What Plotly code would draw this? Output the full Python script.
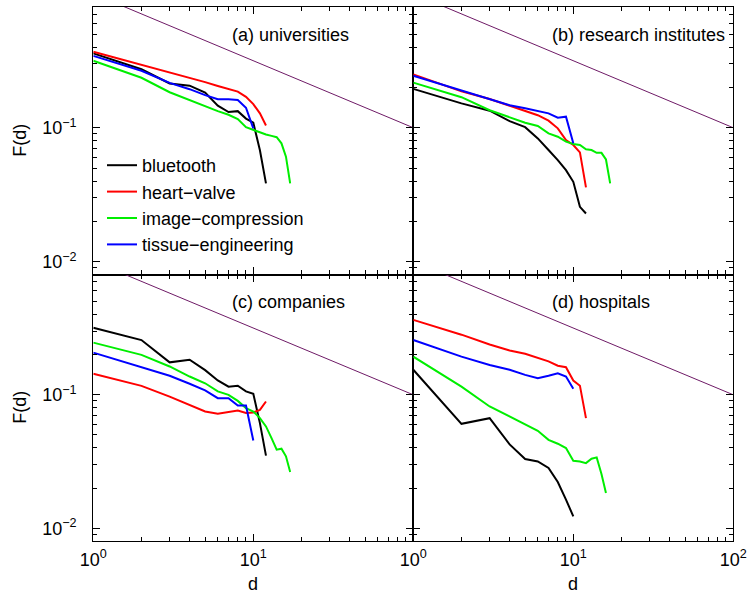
import plotly.graph_objects as go

# distance d (integer steps) and cumulative fraction F(d) per technology field
d_vals = list(range(1, 18))

series_names = ["bluetooth", "heart\u2212valve", "image\u2212compression", "tissue\u2212engineering"]
series_colors = ["#000000", "#ff0000", "#00ee00", "#0000ff"]

# (a) universities
a_bluetooth = [0.359, 0.273, 0.214, 0.206, 0.183, 0.146, 0.131, 0.133, 0.117, 0.109, 0.068, 0.0385]
a_heart = [0.369, 0.296, 0.258, 0.236, 0.219, 0.205, 0.195, 0.186, 0.170, 0.150, 0.128, 0.104]
a_image = [0.316, 0.236, 0.184, 0.161, 0.144, 0.133, 0.125, 0.116, 0.101, 0.096, 0.092, 0.089,
           0.087, 0.085, 0.0765, 0.0608, 0.0385]
a_tissue = [0.344, 0.266, 0.216, 0.194, 0.175, 0.163, 0.163, 0.161, 0.141, 0.099]

# (b) research institutes
b_bluetooth = [0.195, 0.152, 0.134, 0.112, 0.101, 0.0833, 0.0682, 0.0574, 0.0483, 0.0395, 0.0257, 0.0229]
b_heart = [0.250, 0.187, 0.164, 0.146, 0.135, 0.124, 0.113, 0.099, 0.081, 0.0743, 0.0655, 0.0359]
b_image = [0.217, 0.169, 0.135, 0.119, 0.109, 0.103, 0.0908, 0.0857, 0.0787, 0.0756, 0.0743, 0.069,
           0.0682, 0.065, 0.065, 0.058, 0.0385]
b_tissue = [0.244, 0.190, 0.164, 0.147, 0.140, 0.133, 0.128, 0.119, 0.121, 0.0765]

# (c) companies
c_bluetooth = [0.318, 0.257, 0.175, 0.183, 0.153, 0.128, 0.115, 0.117, 0.106, 0.1017, 0.0614, 0.035]
c_heart = [0.1436, 0.1167, 0.097, 0.0842, 0.075, 0.0722, 0.0741, 0.0763, 0.073, 0.0738, 0.077, 0.0891]
c_image = [0.246, 0.199, 0.163, 0.137, 0.122, 0.106, 0.100, 0.090, 0.0795, 0.075, 0.0669, 0.058,
           0.0474, 0.0388, 0.0395, 0.0346, 0.0264]
c_tissue = [0.207, 0.160, 0.139, 0.121, 0.108, 0.0944, 0.0944, 0.083, 0.083, 0.0455]

# (d) hospitals
d_bluetooth = [0.154, 0.0606, 0.0668, 0.0425, 0.033, 0.0317, 0.0283, 0.0222, 0.0164, 0.0123]
d_heart = [0.364, 0.282, 0.238, 0.215, 0.203, 0.188, 0.178, 0.165, 0.161, 0.128, 0.117, 0.0669]
d_image = [0.193, 0.115, 0.0818, 0.0689, 0.0597, 0.0538, 0.046, 0.043, 0.0399, 0.0321, 0.0317, 0.0308,
           0.0332, 0.034, 0.0255, 0.0184]
d_tissue = [0.257, 0.193, 0.167, 0.154, 0.141, 0.133, 0.139, 0.145, 0.137, 0.111]

panel_titles = ["(a) universities", "(b) research institutes", "(c) companies", "(d) hospitals"]
panel_series = [
    [a_bluetooth, a_heart, a_image, a_tissue],
    [b_bluetooth, b_heart, b_image, b_tissue],
    [c_bluetooth, c_heart, c_image, c_tissue],
    [d_bluetooth, d_heart, d_image, d_tissue],
]

# power-law guide F ~ d^(-1/2)
guide_exponent = -0.5
guide_x = [1, 100]
guide_y = [x ** guide_exponent for x in guide_x]

x_major = [1, 10, 100]
x_major_text = ["10<sup>0</sup>", "10<sup>1</sup>", "10<sup>2</sup>"]
y_major = [0.01, 0.1]
y_major_text = ["10<sup>\u22122</sup>", "10<sup>\u22121</sup>"]
x_minor = [m * 10 ** e for e in range(0, 2) for m in range(2, 10)]
y_minor = [m * 10.0 ** e for e in (-3, -2, -1) for m in range(2, 10)]

W, H = 747, 594
FONT = "Liberation Sans, Arial, Helvetica, sans-serif"

# panel frames in pixels: left, right, top, bottom
col_px = [(93.3, 413.3), (413.3, 733.3)]
row_px = [(7.0, 274.5), (274.5, 541.0)]

fig = go.Figure()

axis_common = dict(
    showline=True, linecolor="black", linewidth=1.3, mirror="allticks",
    ticks="inside", ticklen=7, tickwidth=1, tickcolor="black",
    showgrid=False, zeroline=False, automargin=False,
    tickfont=dict(family=FONT, size=18, color="black"),
)

layout = dict(
    width=W, height=H, margin=dict(l=0, r=0, t=0, b=0, autoexpand=False),
    paper_bgcolor="white", plot_bgcolor="white",
    font=dict(family=FONT, size=18, color="black"),
    showlegend=True,
    legend=dict(x=102 / W, y=1 - 147 / H, xanchor="left", yanchor="top",
                bgcolor="rgba(0,0,0,0)", borderwidth=0,
                font=dict(family=FONT, size=18, color="black"),
                tracegroupgap=0, itemwidth=30),
    annotations=[],
)

for p in range(4):
    r, c = divmod(p, 2)
    idx = "" if p == 0 else str(p + 1)
    xl, xr = col_px[c]
    yt, yb = row_px[r]
    xdom = [xl / W, xr / W]
    ydom = [1 - yb / H, 1 - yt / H]

    xa = dict(axis_common, type="log", range=[0, 2], domain=xdom, anchor="y" + idx,
              tickvals=x_major if c == 1 else x_major[:2],
              ticktext=x_major_text if c == 1 else x_major_text[:2],
              showticklabels=(r == 1), ticklabelstandoff=2,
              minor=dict(ticks="inside", ticklen=4, tickwidth=1, tickcolor="black",
                         tickvals=x_minor, showgrid=False))
    ya = dict(axis_common, type="log", range=[-2.095, -0.099], domain=ydom, anchor="x" + idx,
              tickvals=y_major, ticktext=y_major_text,
              showticklabels=(c == 0), ticklabelstandoff=12,
              minor=dict(ticks="inside", ticklen=4, tickwidth=1, tickcolor="black",
                         tickvals=y_minor, showgrid=False))
    layout["xaxis" + idx] = xa
    layout["yaxis" + idx] = ya

    fig.add_trace(go.Scatter(x=guide_x, y=guide_y, mode="lines",
                             line=dict(color="#6e1a66", width=1),
                             xaxis="x" + idx, yaxis="y" + idx,
                             showlegend=False, hoverinfo="skip"))
    for s, vals in enumerate(panel_series[p]):
        fig.add_trace(go.Scatter(x=d_vals[:len(vals)], y=vals, mode="lines",
                                 name=series_names[s],
                                 line=dict(color=series_colors[s], width=2),
                                 xaxis="x" + idx, yaxis="y" + idx,
                                 showlegend=(p == 0)))

    layout["annotations"].append(dict(
        text=panel_titles[p], xref="x%s domain" % idx, yref="y%s domain" % idx,
        x=137 / 320, y=1 - 28 / 267.5, xanchor="left", yanchor="middle",
        showarrow=False, font=dict(family=FONT, size=18, color="black")))

    if c == 0:
        layout["annotations"].append(dict(
            text="F(d)", xref="paper", yref="y%s domain" % idx,
            x=20 / W, y=0.5, xanchor="center", yanchor="middle", textangle=-90,
            showarrow=False, font=dict(family=FONT, size=18, color="black")))
    if r == 1:
        layout["annotations"].append(dict(
            text="d", xref="x%s domain" % idx, yref="paper",
            x=0.5, y=1 - 584 / H, xanchor="center", yanchor="middle",
            showarrow=False, font=dict(family=FONT, size=18, color="black")))

fig.update_layout(layout)
fig.write_html("out.html")
